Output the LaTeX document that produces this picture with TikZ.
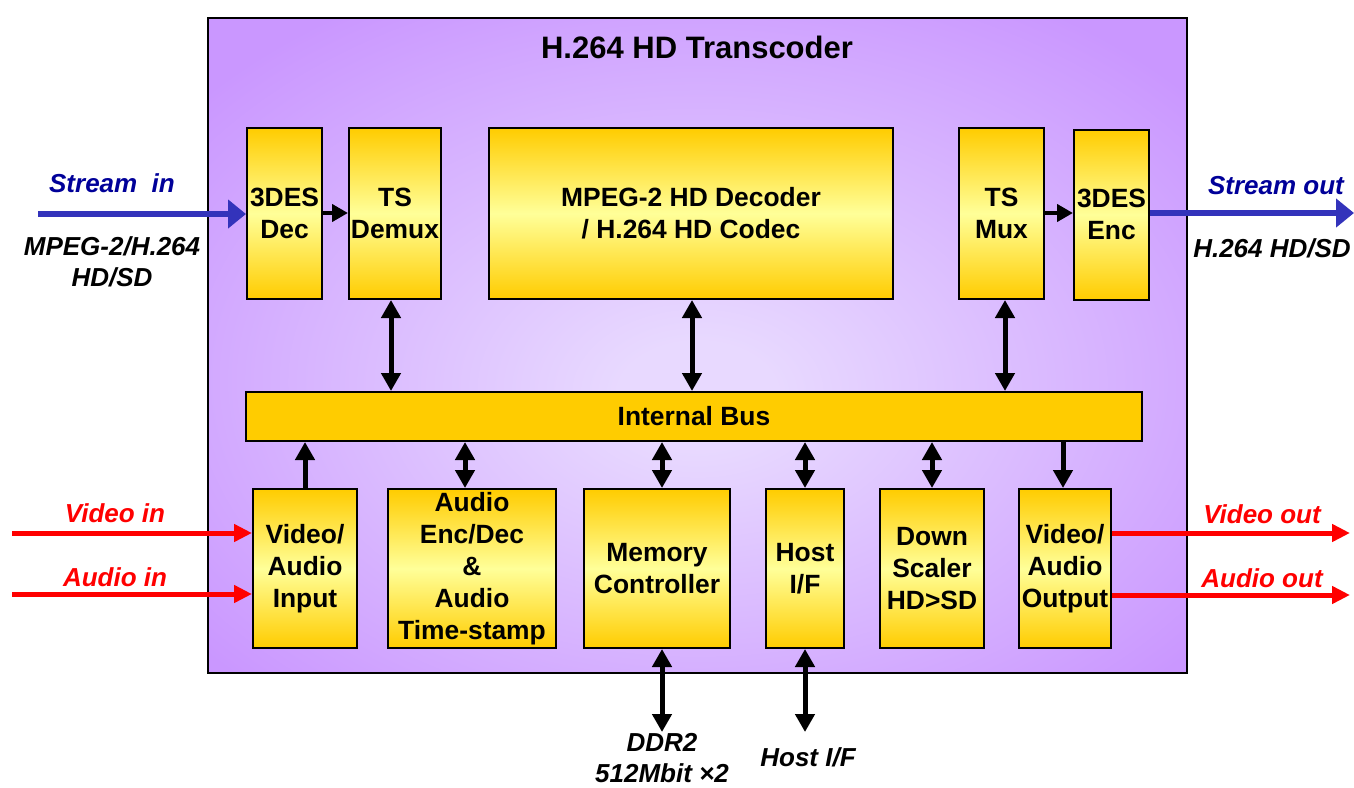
\documentclass[tikz,border=0pt]{standalone}
\usepackage{fontspec}
\setmainfont{Liberation Sans}
\usetikzlibrary{arrows.meta}
\definecolor{purp}{HTML}{CA97FF}
\definecolor{purpl}{HTML}{E8D9FF}
\definecolor{gold}{HTML}{FFCC00}
\definecolor{lyel}{HTML}{FFFF99}
\definecolor{sblue}{HTML}{3333BB}
\definecolor{dblue}{HTML}{000099}
\definecolor{rred}{HTML}{FF0000}
\pgfdeclareradialshading{bgshade}{\pgfpoint{0bp}{-4bp}}{color(0bp)=(purpl); color(4bp)=(purpl); color(33bp)=(purp); color(70bp)=(purp)}
\tikzset{
  blk/.style={draw=black, line width=1pt, top color=gold, bottom color=gold, middle color=lyel,
    inner sep=0pt, align=center, font=\fontsize{13.2}{16}\selectfont\bfseries},
  lbl/.style={inner sep=0pt, align=center, font=\fontsize{13}{15.5}\selectfont\bfseries\itshape},
  onearr/.style={line width=2.5pt, -{Triangle[length=9pt,width=9.5pt]}},
  twoarr/.style={line width=2.5pt, {Triangle[length=9pt,width=9.5pt]}-{Triangle[length=9pt,width=9.5pt]}},
  smallarr/.style={line width=2pt, -{Triangle[length=8pt,width=8.5pt]}},
  bluearr/.style={draw=sblue, line width=3pt, -{Triangle[length=9pt,width=14pt]}},
  redarr/.style={draw=rred, line width=2.5pt, -{Triangle[length=9pt,width=8.5pt]}}
}
\begin{document}
\begin{tikzpicture}[x=0.5pt,y=-0.5pt]
\useasboundingbox (0,0) rectangle (1354,787);
% container
\node[draw=black, line width=1pt, shading=bgshade, minimum width=489.5pt, minimum height=327.5pt, inner sep=0pt] (main) at (697.5,345.5) {};
\node[inner sep=0pt, font=\fontsize{15.5}{18}\selectfont\bfseries] (title) at (697,47) {H.264 HD Transcoder};
% top row
\node[blk, minimum width=37.5pt, minimum height=85.5pt] (dec) at (284.5,213.5) {3DES\\Dec};
\node[blk, minimum width=46pt, minimum height=85.5pt] (demux) at (395,213.5) {TS\\Demux};
\node[blk, minimum width=202pt, minimum height=85.5pt] (mpeg) at (691,213.5) {MPEG-2 HD Decoder\\/ H.264 HD Codec};
\node[blk, minimum width=42.5pt, minimum height=85.5pt] (mux) at (1001.5,213.5) {TS\\Mux};
\node[blk, minimum width=37.5pt, minimum height=85pt] (enc) at (1111.5,214.5) {3DES\\Enc};
% bus
\node[draw=black, line width=1pt, fill=gold, minimum width=448pt, minimum height=24.5pt, inner sep=0pt, font=\fontsize{13.2}{16}\selectfont\bfseries] (bus) at (694,416.5) {Internal Bus};
% bottom row
\node[blk, minimum width=52pt, minimum height=79.5pt] (vin) at (305,568.5) {Video/\\Audio\\Input};
\node[blk, minimum width=84pt, minimum height=79.5pt] (aud) at (472,568.5) {Audio\\Enc/Dec\\\&\\Audio\\Time-stamp};
\node[blk, minimum width=73pt, minimum height=79.5pt] (mem) at (657,568.5) {Memory\\Controller};
\node[blk, minimum width=39pt, minimum height=79.5pt] (host) at (805,568.5) {Host\\I/F};
\node[blk, minimum width=52pt, minimum height=79.5pt] (down) at (932,568.5) {Down\\Scaler\\HD>SD};
\node[blk, minimum width=46pt, minimum height=79.5pt] (vout) at (1065,568.5) {Video/\\Audio\\Output};
% coordinates for connectors
\coordinate (c1) at (391,0);
\coordinate (c2) at (692,0);
\coordinate (c3) at (1005,0);
\coordinate (b1) at (305,0);
\coordinate (b2) at (465,0);
\coordinate (b3) at (662,0);
\coordinate (b4) at (805,0);
\coordinate (b5) at (932,0);
\coordinate (b6) at (1063,0);
\coordinate (sin) at (38,214);
\coordinate (sout) at (1354,213);
\coordinate (hl) at (0,213);
\coordinate (vi) at (12,533);
\coordinate (ai) at (12,594);
\coordinate (vo) at (1350,533);
\coordinate (ao) at (1350,595);
\coordinate (ddr) at (662,732);
\coordinate (hif) at (805,732);
% connectors
\draw[smallarr] (dec.east |- hl) -- (demux.west |- hl);
\draw[smallarr] (mux.east |- hl) -- (enc.west |- hl);
\draw[bluearr] (sin) -- (dec.west |- sin);
\draw[bluearr] (enc.east |- sout) -- (sout);
\draw[twoarr] (demux.south -| c1) -- (bus.north -| c1);
\draw[twoarr] (mpeg.south -| c2) -- (bus.north -| c2);
\draw[twoarr] (mux.south -| c3) -- (bus.north -| c3);
\draw[onearr] (vin.north -| b1) -- (bus.south -| b1);
\draw[twoarr] (aud.north -| b2) -- (bus.south -| b2);
\draw[twoarr] (mem.north -| b3) -- (bus.south -| b3);
\draw[twoarr] (host.north -| b4) -- (bus.south -| b4);
\draw[twoarr] (down.north -| b5) -- (bus.south -| b5);
\draw[onearr] (bus.south -| b6) -- (vout.north -| b6);
\draw[redarr] (vi) -- (vin.west |- vi);
\draw[redarr] (ai) -- (vin.west |- ai);
\draw[redarr] (vout.east |- vo) -- (vo);
\draw[redarr] (vout.east |- ao) -- (ao);
\draw[twoarr] (mem.south -| ddr) -- (ddr);
\draw[twoarr] (host.south -| hif) -- (hif);
% labels
\node[lbl, text=dblue] (lsin) at (112,183) {Stream\ \ in};
\node[lbl] (lsinf) at (112,261.5) {MPEG-2/H.264\\HD/SD};
\node[lbl, text=dblue] (lsout) at (1276,186) {Stream out};
\node[lbl] (lsoutf) at (1272,248) {H.264 HD/SD};
\node[lbl, text=rred] (lvi) at (115,513) {Video in};
\node[lbl, text=rred] (lai) at (115,577) {Audio in};
\node[lbl, text=rred] (lvo) at (1262,514) {Video out};
\node[lbl, text=rred] (lao) at (1262,578) {Audio out};
\node[lbl] (lddr) at (662,758) {DDR2\\512Mbit ×2};
\node[lbl] (lhif) at (808,757) {Host I/F};
\end{tikzpicture}
\end{document}
